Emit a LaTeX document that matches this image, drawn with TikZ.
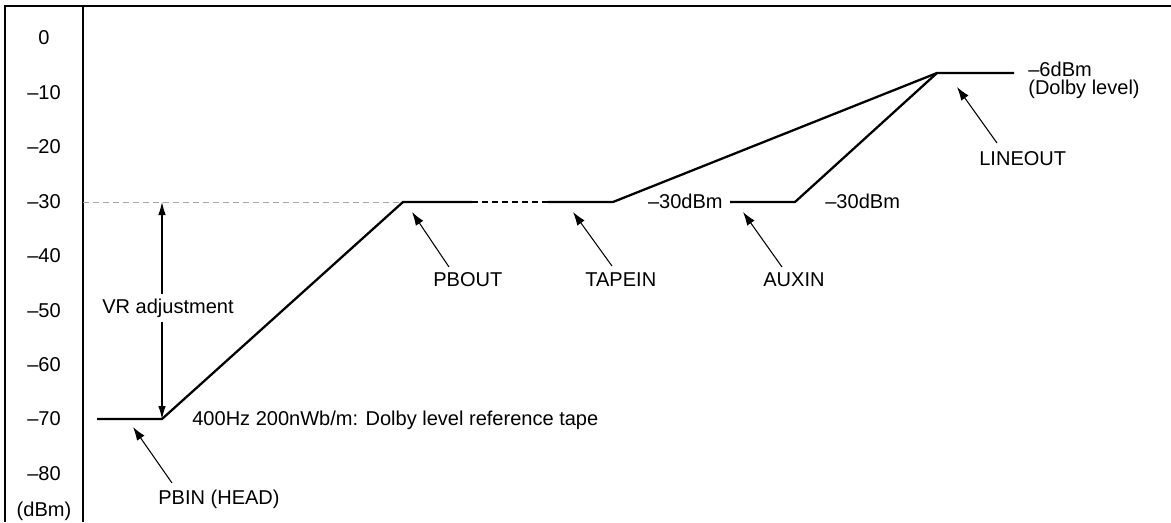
\documentclass[tikz,border=0pt]{standalone}
\usepackage{fontspec}
\setmainfont{Liberation Sans}
\usetikzlibrary{arrows.meta}

\begin{document}
\begin{tikzpicture}[x=0.02cm, y=-0.02cm]
\tikzstyle{level} = [line width=1.3pt]
\tikzstyle{pointer} = [-{Latex[length=0.27cm, width=0.18cm]}, line width=0.6pt]
\tikzstyle{span} = [{Latex[length=0.26cm, width=0.15cm]}-{Latex[length=0.26cm, width=0.15cm]}, line width=0.6pt]
\useasboundingbox (0,0) rectangle (1171,522);
% frame and scale column
\coordinate (tl) at (5,6);
\coordinate (tr) at (1171,6);
\coordinate (bl) at (5,522);
\coordinate (at) at (83,6);
\coordinate (ab) at (83,522);
\draw[line width=1.1pt] (tr) -- (tl) -- (bl);
\draw[line width=1.1pt] (at) -- (ab);
\tikzstyle{every node} = [font=\fontsize{11.4}{13}\selectfont, inner sep=0pt]
\foreach \lab [count=\i from 0] in {0,–10,–20,–30,–40,–50,–60,–70,–80}
  \node (s\i) at (44,38+54.44*\i) {\lab};
\node[anchor=base] (unit) at (44,516) {(dBm)};
% level corners
\coordinate (in0) at (97,419);
\coordinate (in1) at (162,419);
\coordinate (out0) at (403,202);
\coordinate (out1) at (472,202);
\coordinate (tape0) at (548,202);
\coordinate (tape1) at (613,202);
\coordinate (aux0) at (730,202);
\coordinate (aux1) at (795,202);
\coordinate (line0) at (937,73);
\coordinate (line1) at (1014,73);
\coordinate (ax30) at (83,202);
\coordinate (vr) at (162,202);
\draw[gray!70, line width=0.5pt, dash pattern=on 0.12cm off 0.08cm] (ax30) -- (out0);
\draw[level] (in0) -- (in1) -- (out0) -- (out1);
\draw[level, dash pattern=on 0.12cm off 0.08cm] (out1) -- (tape0);
\draw[level] (tape0) -- (tape1) -- (line0) -- (line1);
\draw[level] (aux0) -- (aux1) -- (line0);
% VR range
\draw[span] (in1) -- (vr);
\node[fill=white, inner ysep=2.5pt, inner xsep=0pt] (adj) at (168,308) {VR adjustment};
% labels
\node[anchor=base west] (ref) at (192,425) {400Hz 200nWb/m: Dolby level reference tape};
\node[anchor=base east] (auxlvl) at (723,208) {–30dBm};
\node[anchor=base west] (mixlvl) at (825,208) {–30dBm};
\node[anchor=north west, align=left, font=\fontsize{11.4}{10.2}\selectfont] (dolby) at (1028,62) {–6dBm\\(Dolby level)};
\node[anchor=north west] (pbin) at (158,490) {PBIN (HEAD)};
\node[anchor=north west] (pbout) at (433,272) {PBOUT};
\node[anchor=north west] (tapein) at (585,272) {TAPEIN};
\node[anchor=north west] (auxin) at (763,272) {AUXIN};
\node[anchor=north west] (lineout) at (979,151) {LINEOUT};
\tikzstyle{every node} = []
% pointers
\coordinate (pbin tip) at (133,427);
\coordinate (pbout tip) at (412,212);
\coordinate (tapein tip) at (573,212);
\coordinate (auxin tip) at (743,212);
\coordinate (lineout tip) at (957,87);
\draw[pointer] ([shift={(14,-7)}]pbin.north west) -- (pbin tip);
\draw[pointer] ([shift={(16,-5)}]pbout.north west) -- (pbout tip);
\draw[pointer] ([shift={(27,-6)}]tapein.north west) -- (tapein tip);
\draw[pointer] ([shift={(19,-5)}]auxin.north west) -- (auxin tip);
\draw[pointer] ([shift={(18,-8)}]lineout.north west) -- (lineout tip);
\end{tikzpicture}
\end{document}
